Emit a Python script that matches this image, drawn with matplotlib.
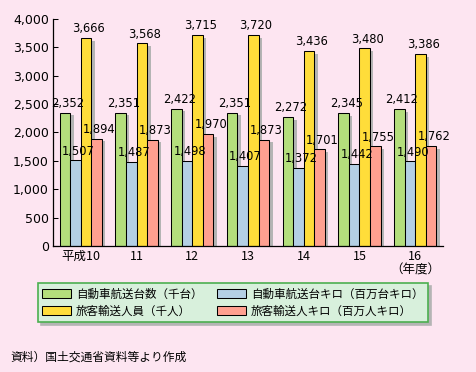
import matplotlib
matplotlib.use("Agg")
import matplotlib.pyplot as plt
import matplotlib.patheffects as pe
import numpy as np

plt.rcParams['font.family'] = ['DejaVu Sans', 'Noto Sans CJK JP']
JP = ['Noto Sans CJK JP', 'DejaVu Sans']

years = ["平成10", "11", "12", "13", "14", "15", "16\n（年度）"]
series_names = ["自動車航送台数（千台）", "自動車航送台キロ（百万台キロ）",
                "旅客輸送人員（千人）", "旅客輸送人キロ（百万人キロ）"]
cars = [2352, 2351, 2422, 2351, 2272, 2345, 2412]
car_km = [1507, 1487, 1498, 1407, 1372, 1442, 1490]
passengers = [3666, 3568, 3715, 3720, 3436, 3480, 3386]
pass_km = [1894, 1873, 1970, 1873, 1701, 1755, 1762]
yticks = [0, 500, 1000, 1500, 2000, 2500, 3000, 3500, 4000]

colors = ["#B4DE7C", "#B4CFE4", "#FFDD3A", "#FFA090"]
bg = "#FDE5F1"

fig = plt.figure(figsize=(4.76, 3.72), dpi=100, facecolor=bg)
ax = fig.add_axes([0.1113, 0.3387, 0.8194, 0.6103])
ax.set_facecolor(bg)

data = [cars, car_km, passengers, pass_km]
x = np.arange(len(years))
w = 0.19
handles = []
for i, (vals, c) in enumerate(zip(data, colors)):
    pos = x + (i - 1.5) * w
    bars = ax.bar(pos, vals, width=w, color=c, edgecolor='black', linewidth=0.75,
                  zorder=2)
    for b in bars:
        b.set_path_effects([pe.SimplePatchShadow(offset=(2.5, -2), shadow_rgbFace='#b4b4b4', alpha=1),
                            pe.Normal()])
    handles.append(bars[0])
    for p, v in zip(pos, vals):
        ax.annotate(f"{v:,}", (p, v), xytext=(2, 2), textcoords='offset points',
                    ha='center', va='bottom', fontsize=8.3, zorder=5)

ax.set_xlim(-0.5, len(years) - 0.5)
ax.set_ylim(0, 4000)
ax.set_yticks(yticks)
ax.set_yticklabels([f"{t:,}" for t in yticks], fontsize=9)
ax.set_xticks(x)
ax.set_xticklabels(years, fontsize=9, linespacing=1.0, family=JP)
ax.tick_params(axis='y', direction='in', length=3.5, width=0.75, pad=3)
ax.tick_params(axis='x', length=0, pad=3)
for s in ['top', 'right']:
    ax.spines[s].set_visible(False)
for s in ['left', 'bottom']:
    ax.spines[s].set_linewidth(0.9)
    ax.spines[s].set_color('black')

order = [0, 2, 1, 3]
leg = fig.legend([handles[i] for i in order], [series_names[i] for i in order],
                 ncol=2, loc='upper center', bbox_to_anchor=(0.489, 0.255),
                 prop={'family': JP, 'size': 8.3}, frameon=True, fancybox=False,
                 facecolor='#D8F0DC', edgecolor='#4CAF50', framealpha=1,
                 shadow={'color': '#b4b4b4', 'alpha': 1},
                 handlelength=2.5, handleheight=0.7, handletextpad=0.4,
                 columnspacing=1.3, labelspacing=0.35, borderpad=0.4)
leg.get_frame().set_linewidth(1.2)
for h in leg.legend_handles:
    h.set_path_effects([])

fig.text(0.021, 0.04, "資料）国土交通省資料等より作成", fontsize=8.5, ha='left', va='center',
         family=JP)

fig.savefig("out.png", dpi=100, facecolor=bg)
